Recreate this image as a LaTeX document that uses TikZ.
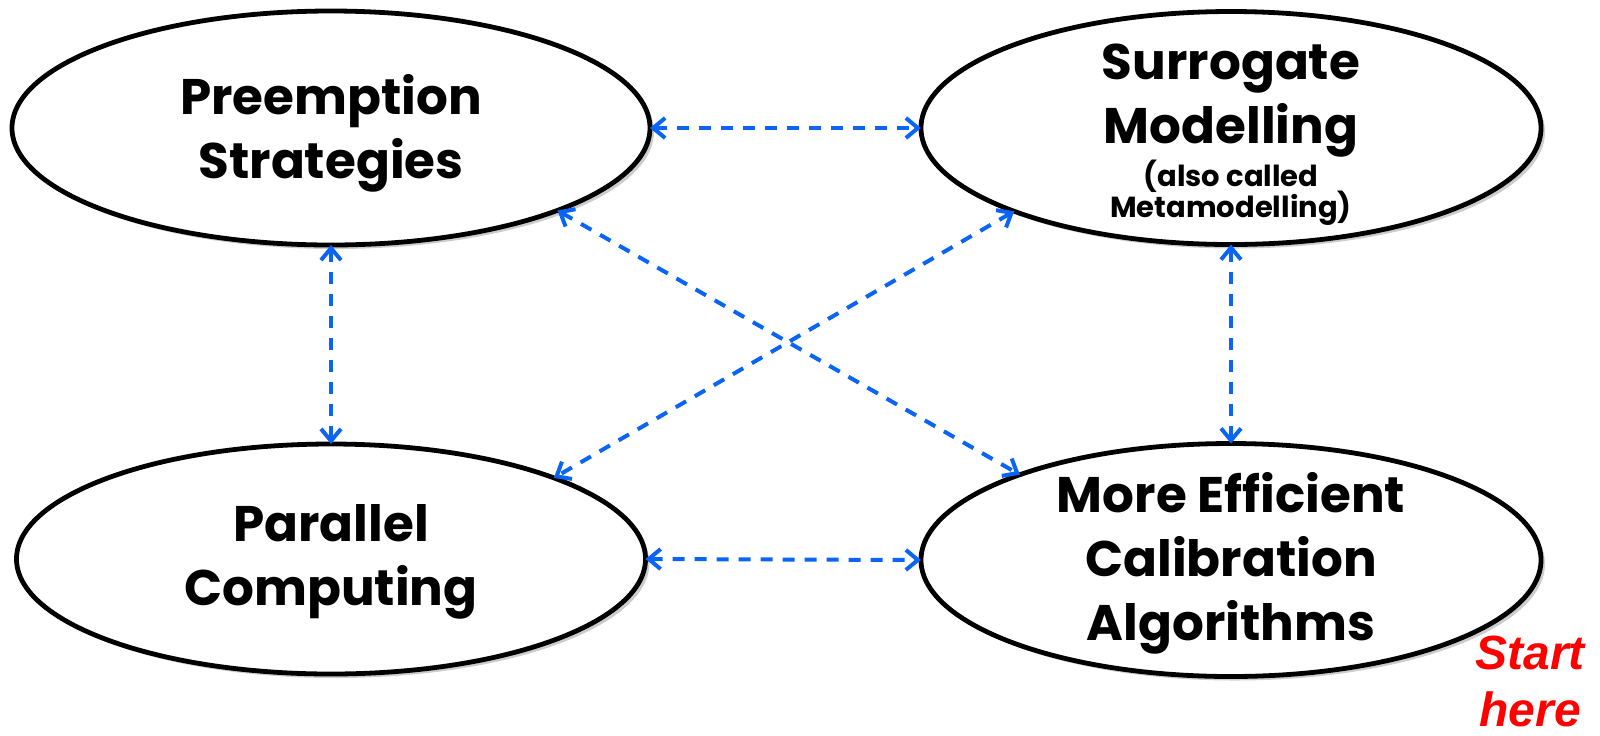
\documentclass[tikz,border=0pt]{standalone}
\usepackage{fontspec}
\setmainfont{Poppins}
\newfontfamily\startfont{Liberation Sans}
\usetikzlibrary{positioning,shapes.geometric,shadows,arrows.meta}
\definecolor{linkblue}{RGB}{10,100,245}

\begin{document}
\begin{tikzpicture}[>={Straight Barb[length=6pt,width=10pt]},
    topic node/.style={ellipse,draw,line width=2.4pt,fill=white,inner xsep=0pt,inner ysep=-14pt,outer sep=0pt,
      minimum width=310pt,minimum height=116.5pt,align=center,
      font=\bfseries\fontsize{25}{32}\selectfont,
      drop shadow={opacity=0.4,shadow xshift=2pt,shadow yshift=-2pt}},
    link/.style={<->,linkblue,line width=2pt,dash pattern=on 6pt off 5pt}]
    \useasboundingbox (0,0) rectangle (800pt,-367.5pt);

    \node[topic node,minimum width=319pt,minimum height=117pt] (pre) at (165.5pt,-64pt) {Preemption\\Strategies\\[-30pt]};
    \node[topic node] (sur) [right=135.5pt of pre] {Surrogate\\Modelling\\[-10.5pt]\fontsize{14.5}{15.5}\selectfont(also called\\[-16.5pt]\fontsize{14.5}{15.5}\selectfont Metamodelling)\\[-35pt]};
    \node[topic node,minimum width=314.5pt,minimum height=115pt] (par) [below=99.5pt of pre] {Parallel\\Computing\\[-28pt]};
    \node[topic node] (eff) [below=99.5pt of sur] {More Efficient\\Calibration\\Algorithms\\[-28pt]};
    \node[font=\startfont\bfseries\itshape\fontsize{24}{28.5}\selectfont,text=red,align=center,inner sep=0pt,anchor=north] (start) at (765pt,-318pt) {Start\\here};

    % links between the topics
    \draw[link] (pre.east) -- (sur.west);
    \draw[link] (par.east) -- (eff.west);
    \draw[link] (pre.south) -- (par.north);
    \draw[link] (sur.south) -- (eff.north);
    \draw[link] (pre.-20) -- (eff.158);
    \draw[link] (sur.-159) -- (par.20);
\end{tikzpicture}
\end{document}
